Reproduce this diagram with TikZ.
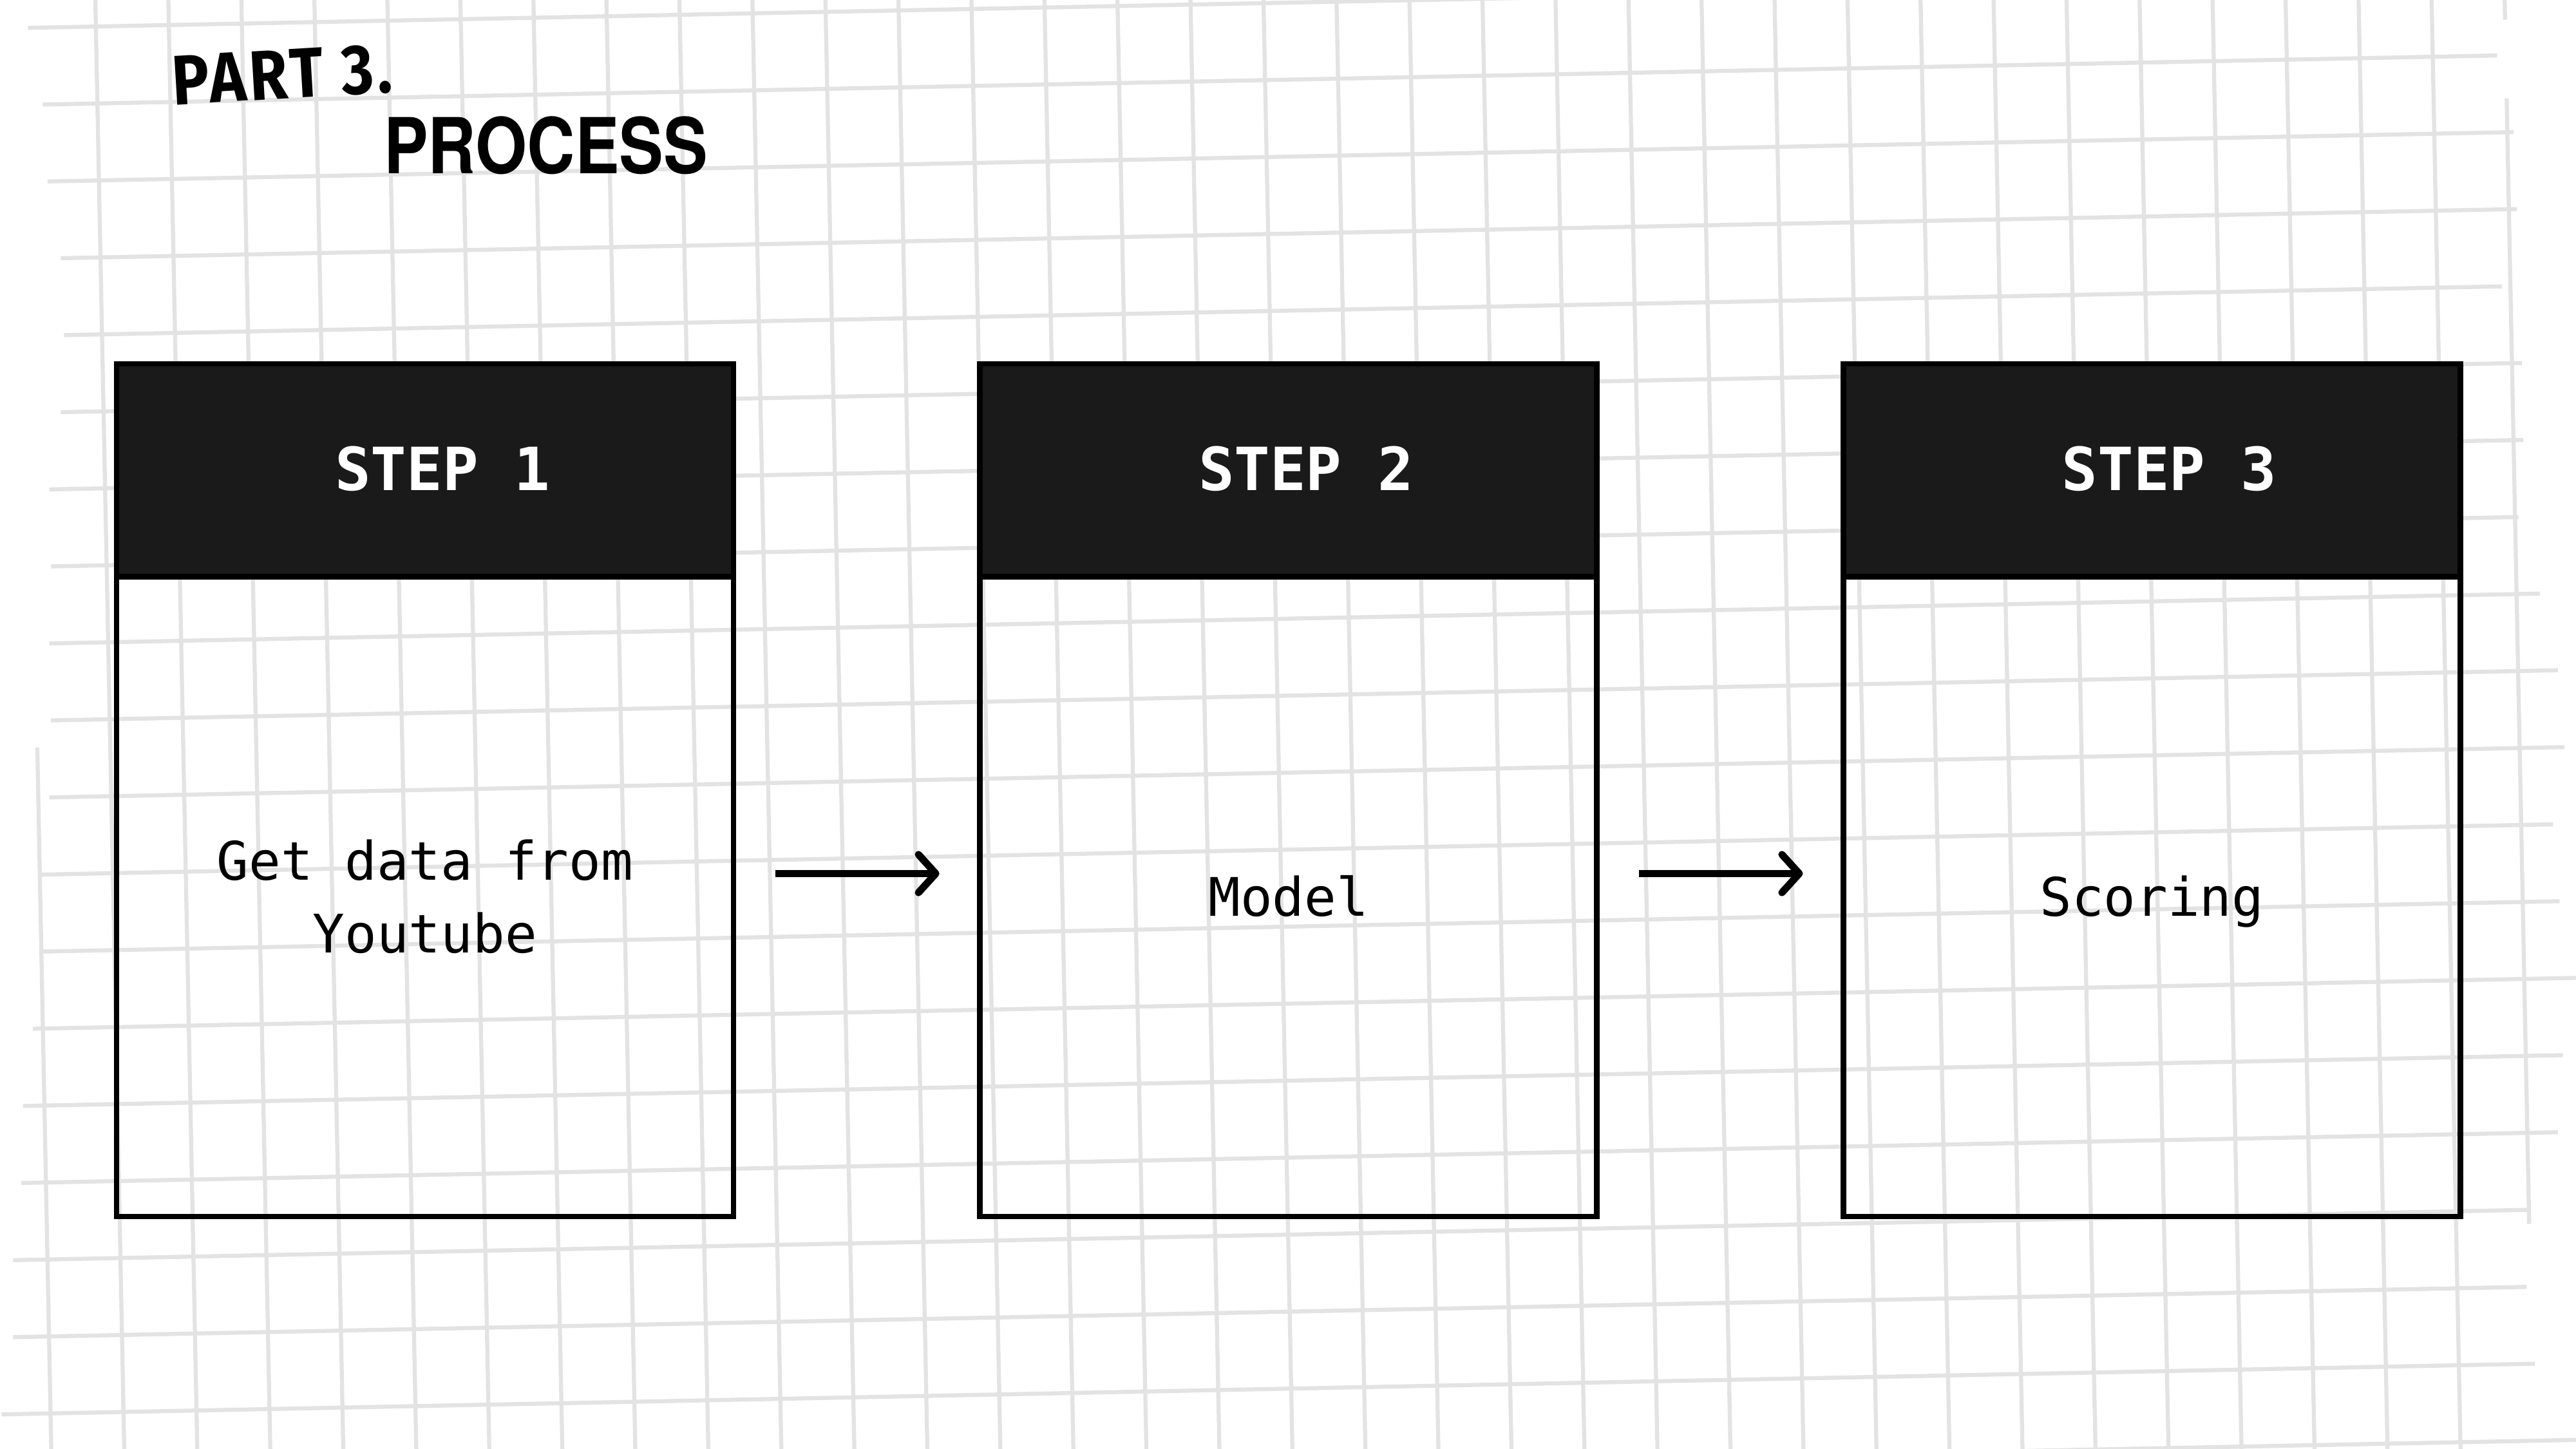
\documentclass[tikz,border=0pt]{standalone}
\usepackage{fontspec}
\usetikzlibrary{arrows.meta}

\newfontfamily\codefont{DejaVu Sans Mono}
\newfontfamily\titlefont{TeX Gyre Heros}[FakeStretch=0.86]
\newfontfamily\handfont{Fira Sans}[FakeStretch=0.88, LetterSpace=5]
\definecolor{headgray}{HTML}{1A1A1A}
\definecolor{paperline}{HTML}{E3E3E3}

\begin{document}
\begin{tikzpicture}[x=0.01cm, y=-0.01cm,
  paper/.style={draw=paperline, line width=0.7pt},
  head box/.style={draw, fill=headgray, line width=0.95pt, minimum width=3.753cm, minimum height=1.295cm, inner sep=0pt},
  body box/.style={draw, line width=0.95pt, minimum width=3.753cm, minimum height=3.893cm, inner sep=0pt},
  head text/.style={text=white, anchor=base, inner sep=0pt, font=\codefont\bfseries\fontsize{10.3}{12}\selectfont},
  body text/.style={anchor=base, align=center, inner sep=0pt, font=\codefont\fontsize{9.2}{12.6}\selectfont},
  flow/.style={-{Straight Barb[length=3pt, width=6.6pt, round]}, line width=1.25pt, shorten <=2.4mm, shorten >=2.3mm}]

  \fill[white] (0,0) rectangle (1568,882);
  \useasboundingbox (0,0) rectangle (1568,882);

  % squared paper
  \begin{scope}
    \clip (0,0) rectangle (1568,882);
    \foreach \k in {1,...,33}
      \draw[paper] ({13.6+44.44*\k},0) -- ({31.2+44.44*\k},882);
    \draw[paper] (22.7,455) -- (31.2,882);
    \draw[paper] (1524.6,0) -- (1524.8,12);
    \draw[paper] (1525.8,60) -- (1539.5,745);
    \foreach \j/\xa/\xb in {0/17/1568, 1/26/1520, 2/29/1530, 3/37/1532, 4/39/1523, 5/37/1535, 6/30/1536, 7/31/1533, 8/30/1546, 9/31/1557, 10/30/1561, 11/25/1554, 12/26/1558, 13/20/1568, 14/14/1560, 15/13/1557, 16/8/1540, 17/8/1538, 18/1/1543, 19/0/1568}
      \draw[paper] (\xa,{17.3+46.87*\j-0.02*\xa}) -- (\xb,{17.3+46.87*\j-0.02*\xb});
  \end{scope}

  % title
  \node[anchor=base west, inner sep=0pt, rotate=3.4, font=\handfont\bfseries\fontsize{12.2}{14}\selectfont] (part) at (105,64) {PART 3.};
  \node[anchor=base west, inner sep=0pt, font=\titlefont\bfseries\fontsize{13.35}{16}\selectfont] (title) at (233,105.5) {PROCESS};

  % boxes
  \node[body box] (body1) at (258.65,545.65) {};
  \node[body box] (body2) at (784.25,545.65) {};
  \node[body box] (body3) at (1309.85,545.65) {};
  \node[head box] (head1) at (258.65,286.25) {};
  \node[head box] (head2) at (784.25,286.25) {};
  \node[head box] (head3) at (1309.85,286.25) {};

  \node[head text] (step1) at (269.35,298.6) {STEP 1};
  \node[head text] (step2) at (794.95,298.6) {STEP 2};
  \node[head text] (step3) at (1320.55,298.6) {STEP 3};

  \node[body text] (desc1) at (258.65,580.1) {Get data from\\Youtube};
  \node[body text] (desc2) at (784.25,557.6) {Model};
  \node[body text] (desc3) at (1309.85,557.6) {Scoring};

  \path[] ([yshift=1.39mm]body1.east) [flow] edge ([yshift=1.39mm]body2.west);
  \path[] ([yshift=1.39mm]body2.east) [flow] edge ([yshift=1.39mm]body3.west);

\end{tikzpicture}
\end{document}
